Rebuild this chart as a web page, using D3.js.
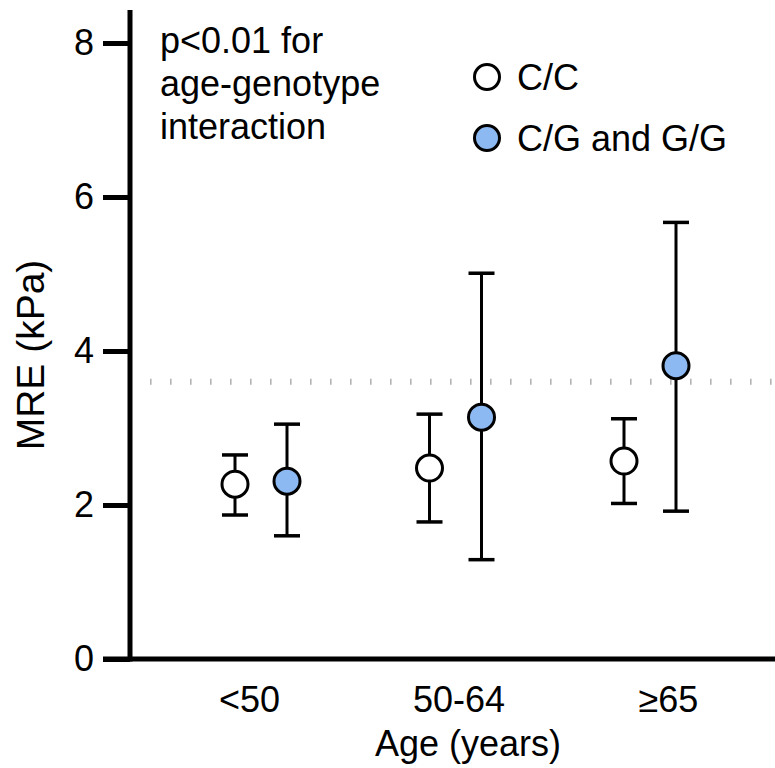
<!DOCTYPE html>
<html>
<head>
<meta charset="utf-8">
<script src="https://cdn.jsdelivr.net/npm/d3@7"></script>
<style>
  html, body { margin: 0; padding: 0; background: #fff; }
  svg { display: block; }
  text { font-family: "Liberation Sans", Arial, Helvetica, sans-serif; fill: #000; }
</style>
</head>
<body>
<svg id="chart" width="775" height="768"></svg>
<script>
// ---- data ----
const categories = ["<50", "50-64", "\u226565"];
const seriesNames = ["C/C", "C/G and G/G"];
const ccMean  = [2.27, 2.48, 2.57];
const ccLow   = [1.87, 1.78, 2.02];
const ccHigh  = [2.65, 3.18, 3.12];
const cgMean  = [2.31, 3.14, 3.81];
const cgLow   = [1.60, 1.29, 1.92];
const cgHigh  = [3.05, 5.01, 5.67];
const yTicks  = [0, 2, 4, 6, 8];
const threshold = 3.6;
const annotation = ["p<0.01 for", "age-genotype", "interaction"];

// ---- layout ----
const svg = d3.select("#chart");
const W = 775, H = 768;
const axisX = 130, axisY = 659;
const colors = ["#ffffff", "#8cb9f1"];
const FS = 36;

const y = d3.scaleLinear().domain([0, 8]).range([659, 43]);
const xGroup = d3.scalePoint().domain(categories).range([261, 650]);
const xLabel = d3.scalePoint().domain(categories).range([249, 668]);
const offset = d3.scaleOrdinal().domain(seriesNames).range([-26, 26]);

const series = [
  { name: seriesNames[0], mean: ccMean, low: ccLow, high: ccHigh, fill: colors[0] },
  { name: seriesNames[1], mean: cgMean, low: cgLow, high: cgHigh, fill: colors[1] }
];

// threshold dotted line
svg.append("line")
  .attr("x1", 150).attr("x2", W)
  .attr("y1", y(threshold)).attr("y2", y(threshold))
  .attr("stroke", "#b3b3b3")
  .attr("stroke-width", 6)
  .attr("stroke-dasharray", "1.6 18.4");

// y axis
const yAxis = d3.axisLeft(y).tickValues(yTicks).tickSize(27).tickPadding(9).tickFormat(d3.format("d"));
const gy = svg.append("g").attr("transform", `translate(${axisX},0)`).call(yAxis);
gy.select(".domain").remove();
gy.selectAll(".tick line").attr("stroke", "#000").attr("stroke-width", 5);
gy.selectAll(".tick text").attr("font-size", FS).attr("font-family", "Liberation Sans, Arial, sans-serif");
svg.append("line").attr("x1", axisX).attr("x2", axisX).attr("y1", 10).attr("y2", axisY + 2.5)
  .attr("stroke", "#000").attr("stroke-width", 5);

// x axis
svg.append("line").attr("x1", 103).attr("x2", W).attr("y1", axisY).attr("y2", axisY)
  .attr("stroke", "#000").attr("stroke-width", 5);
const xAxis = d3.axisBottom(xLabel).tickSize(0).tickPadding(0);
const gx = svg.append("g").attr("transform", `translate(0,${axisY})`).call(xAxis);
gx.select(".domain").remove();
gx.selectAll(".tick text").attr("font-size", FS).attr("dy", null).attr("y", 53)
  .attr("font-family", "Liberation Sans, Arial, sans-serif");

// axis titles
svg.append("text").attr("x", 468).attr("y", 756).attr("text-anchor", "middle")
  .attr("font-size", FS).text("Age (years)");
svg.append("text").attr("transform", `translate(44,355) rotate(-90)`).attr("text-anchor", "middle")
  .attr("font-size", 39).text("MRE (kPa)");

// error bars + points
series.forEach(s => {
  const g = svg.append("g");
  const cx = i => xGroup(categories[i]) + offset(s.name);
  categories.forEach((c, i) => {
    g.append("line").attr("x1", cx(i)).attr("x2", cx(i))
      .attr("y1", y(s.low[i])).attr("y2", y(s.high[i]))
      .attr("stroke", "#000").attr("stroke-width", 3);
    [s.low[i], s.high[i]].forEach(v => {
      g.append("line").attr("x1", cx(i) - 13).attr("x2", cx(i) + 13)
        .attr("y1", y(v)).attr("y2", y(v))
        .attr("stroke", "#000").attr("stroke-width", 3.5);
    });
  });
  g.selectAll("circle").data(s.mean).join("circle")
    .attr("cx", (d, i) => cx(i)).attr("cy", d => y(d)).attr("r", 13)
    .attr("fill", s.fill).attr("stroke", "#000").attr("stroke-width", 3);
});

// annotation
const ann = svg.append("text").attr("x", 160).attr("font-size", FS);
annotation.forEach((t, i) => ann.append("tspan").attr("x", 160).attr("y", 53 + i * 43).text(t));

// legend
series.forEach((s, i) => {
  const ly = 77 + i * 61;
  svg.append("circle").attr("cx", 487).attr("cy", ly).attr("r", 12.5)
    .attr("fill", s.fill).attr("stroke", "#000").attr("stroke-width", 3);
  svg.append("text").attr("x", 517).attr("y", ly + 13).attr("font-size", FS).text(s.name);
});
</script>
</body>
</html>
